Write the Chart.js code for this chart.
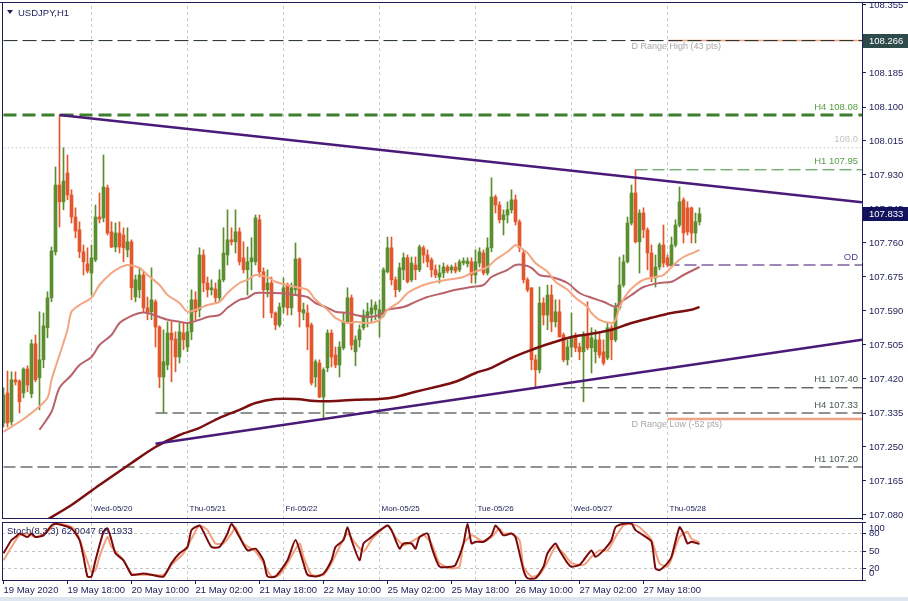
<!DOCTYPE html>
<html>
<head>
<meta charset="utf-8">
<title>USDJPY,H1</title>
<script src="https://cdn.jsdelivr.net/npm/chart.js@4.4.1/dist/chart.umd.min.js"></script>
<style>
    html, body { margin: 0; padding: 0; background: #fff; }
    #wrap { position: relative; width: 908px; height: 601px; overflow: hidden; background: #fff; }
    #price-chart { position: absolute; left: 0; top: 0; }
    #stoch-chart { position: absolute; left: 0; top: 521px; }
    #status-strip { position: absolute; left: 0; top: 597px; width: 908px; height: 4px; background: #dde5ef; }
</style>
</head>
<body>
<div id="wrap">
    <canvas id="price-chart" width="908" height="521"></canvas>
    <canvas id="stoch-chart" width="908" height="76"></canvas>
    <div id="status-strip"></div>
</div>
<script>
const symbolTitle = "USDJPY,H1";
const stochTitle = "Stoch(8,3,3) 62.0047 65.1933";

const candleOpen = [107.310,107.385,107.313,107.418,107.415,107.385,107.445,107.383,107.508,107.423,
    107.468,107.548,107.623,107.738,107.905,107.863,107.935,107.880,107.825,107.793,
    107.738,107.708,107.685,107.718,107.825,107.823,107.898,107.788,107.750,107.785,
    107.780,107.743,107.763,107.625,107.643,107.680,107.598,107.588,107.613,107.550,
    107.425,107.455,107.535,107.520,107.475,107.535,107.500,107.538,107.618,107.593,
    107.730,107.660,107.643,107.645,107.623,107.668,107.730,107.768,107.763,107.788,
    107.723,107.693,107.713,107.713,107.818,107.688,107.643,107.660,107.585,107.555,
    107.600,107.655,107.598,107.643,107.720,107.585,107.585,107.555,107.425,107.460,
    107.375,107.448,107.535,107.480,107.455,107.498,107.563,107.623,107.488,107.518,
    107.548,107.573,107.583,107.593,107.573,107.580,107.688,107.748,107.668,107.643,
    107.693,107.723,107.668,107.705,107.693,107.748,107.730,107.718,107.693,107.675,
    107.685,107.700,107.693,107.700,107.693,107.710,107.708,107.713,107.680,107.710,
    107.735,107.685,107.748,107.875,107.855,107.818,107.830,107.843,107.868,107.813,
    107.735,107.668,107.648,107.468,107.443,107.610,107.580,107.630,107.563,107.588,
    107.530,107.468,107.500,107.525,107.500,107.488,107.530,107.498,107.488,107.518,
    107.488,107.473,107.548,107.518,107.598,107.655,107.713,107.810,107.885,107.763,
    107.835,107.793,107.735,107.673,107.700,107.755,107.723,107.705,107.755,107.805,
    107.868,107.848,107.848,107.785,107.813];
const candleHigh = [107.398,107.440,107.438,107.438,107.418,107.448,107.453,107.518,107.530,107.588,
    107.585,107.638,107.750,107.950,108.080,107.998,107.980,107.893,107.848,107.813,
    107.755,107.748,107.755,107.855,107.885,107.980,107.905,107.813,107.810,107.813,
    107.798,107.798,107.768,107.680,107.698,107.688,107.625,107.698,107.618,107.553,
    107.543,107.563,107.563,107.538,107.560,107.560,107.560,107.643,107.638,107.748,
    107.743,107.675,107.668,107.660,107.693,107.798,107.843,107.798,107.843,107.798,
    107.763,107.750,107.773,107.830,107.830,107.698,107.693,107.675,107.588,107.610,
    107.673,107.660,107.660,107.760,107.723,107.610,107.605,107.560,107.468,107.468,
    107.448,107.543,107.543,107.500,107.513,107.585,107.648,107.630,107.528,107.555,
    107.593,107.610,107.618,107.613,107.618,107.698,107.775,107.775,107.675,107.710,
    107.735,107.730,107.725,107.725,107.755,107.753,107.743,107.723,107.705,107.705,
    107.710,107.705,107.705,107.710,107.718,107.723,107.723,107.723,107.743,107.748,
    107.743,107.773,107.923,107.880,107.863,107.843,107.863,107.893,107.880,107.818,
    107.743,107.673,107.648,107.480,107.650,107.623,107.655,107.655,107.618,107.618,
    107.535,107.518,107.585,107.535,107.510,107.538,107.613,107.548,107.543,107.535,
    107.518,107.560,107.555,107.610,107.725,107.730,107.825,107.905,107.943,107.843,
    107.848,107.798,107.755,107.730,107.760,107.805,107.730,107.775,107.818,107.900,
    107.873,107.863,107.850,107.835,107.848];
const candleLow = [107.300,107.300,107.305,107.405,107.335,107.373,107.388,107.373,107.413,107.343,
    107.448,107.523,107.613,107.730,107.800,107.843,107.868,107.810,107.773,107.723,
    107.680,107.685,107.630,107.713,107.810,107.813,107.780,107.748,107.738,107.735,
    107.713,107.725,107.618,107.613,107.623,107.588,107.568,107.568,107.500,107.398,
    107.335,107.443,107.413,107.438,107.460,107.493,107.488,107.518,107.568,107.575,
    107.638,107.625,107.630,107.610,107.613,107.663,107.705,107.755,107.735,107.705,
    107.685,107.630,107.643,107.705,107.675,107.573,107.625,107.573,107.543,107.550,
    107.585,107.580,107.580,107.630,107.550,107.568,107.493,107.405,107.400,107.373,
    107.318,107.438,107.450,107.448,107.425,107.493,107.560,107.493,107.453,107.500,
    107.543,107.550,107.560,107.568,107.525,107.575,107.685,107.655,107.625,107.638,
    107.668,107.660,107.663,107.668,107.688,107.710,107.700,107.675,107.673,107.660,
    107.673,107.685,107.685,107.685,107.688,107.705,107.700,107.660,107.660,107.700,
    107.680,107.680,107.738,107.835,107.810,107.780,107.810,107.835,107.805,107.738,
    107.660,107.638,107.443,107.398,107.435,107.555,107.543,107.538,107.550,107.525,
    107.463,107.455,107.475,107.488,107.468,107.363,107.493,107.435,107.460,107.473,
    107.455,107.468,107.468,107.513,107.593,107.650,107.710,107.805,107.760,107.685,
    107.773,107.693,107.663,107.650,107.693,107.700,107.700,107.700,107.750,107.800,
    107.760,107.780,107.760,107.760,107.805];
const candleClose = [107.380,107.310,107.418,107.413,107.363,107.445,107.405,107.508,107.418,107.468,
    107.553,107.623,107.740,107.905,107.863,107.915,107.880,107.825,107.790,107.738,
    107.713,107.690,107.723,107.825,107.820,107.900,107.785,107.750,107.785,107.750,
    107.748,107.763,107.648,107.668,107.680,107.598,107.588,107.618,107.550,107.425,
    107.463,107.535,107.518,107.475,107.538,107.518,107.538,107.618,107.588,107.730,
    107.660,107.643,107.648,107.623,107.668,107.735,107.768,107.763,107.788,107.713,
    107.693,107.713,107.723,107.823,107.688,107.643,107.660,107.585,107.555,107.600,
    107.648,107.598,107.648,107.720,107.588,107.593,107.550,107.410,107.463,107.375,
    107.443,107.535,107.475,107.455,107.500,107.563,107.623,107.505,107.518,107.543,
    107.580,107.588,107.598,107.605,107.593,107.693,107.748,107.668,107.643,107.698,
    107.723,107.663,107.710,107.693,107.750,107.730,107.713,107.693,107.680,107.685,
    107.700,107.690,107.700,107.690,107.713,107.715,107.715,107.680,107.713,107.738,
    107.685,107.748,107.875,107.855,107.818,107.830,107.843,107.868,107.813,107.748,
    107.668,107.643,107.468,107.443,107.610,107.580,107.630,107.563,107.588,107.525,
    107.468,107.500,107.523,107.498,107.488,107.530,107.498,107.523,107.518,107.480,
    107.460,107.548,107.518,107.598,107.655,107.713,107.810,107.885,107.763,107.835,
    107.793,107.735,107.673,107.700,107.755,107.710,107.705,107.755,107.805,107.863,
    107.785,107.788,107.785,107.813,107.833];

const fastMaBars = [0,4,8,11,12,14,16,17,19,22,24,27,29,31,34,36,39,41,44,46,48,51,54,56,59,61,63,66,68,71,
    73,76,78,81,83,86,88,91,94,96,99,101,105,108,111,115,117,121,123,126,128,129,131,133,136,138,141,143,146,147,
    149,152,153,154,156,158,160,163,165,168,170,173,174];
const fastMa = [107.288,107.313,107.343,107.373,107.418,107.480,107.543,107.588,107.605,107.623,
    107.655,107.685,107.698,107.705,107.698,107.680,107.655,107.630,107.610,107.588,
    107.593,107.605,107.613,107.635,107.660,107.668,107.680,107.675,107.663,107.655,
    107.650,107.643,107.618,107.593,107.573,107.560,107.563,107.560,107.568,107.593,
    107.613,107.635,107.655,107.663,107.668,107.675,107.685,107.700,107.718,107.738,
    107.755,107.750,107.735,107.710,107.688,107.663,107.643,107.623,107.600,107.585,
    107.568,107.560,107.568,107.600,107.635,107.655,107.668,107.675,107.680,107.710,
    107.725,107.738,107.743];

const midMaBars = [9,12,14,17,19,22,24,27,29,31,34,36,39,41,44,46,49,51,54,56,59,61,63,66,68,71,73,76,78,81,
    83,86,88,91,94,96,100,103,106,110,113,117,120,122,126,128,130,132,134,137,141,144,147,150,153,154,157,160,164,167,
    170,174];
const midMa = [107.293,107.338,107.398,107.430,107.455,107.475,107.505,107.530,107.560,107.573,
    107.585,107.585,107.575,107.568,107.563,107.560,107.568,107.575,107.580,107.598,
    107.618,107.623,107.635,107.635,107.635,107.633,107.630,107.625,107.610,107.598,
    107.588,107.585,107.580,107.575,107.580,107.593,107.600,107.613,107.625,107.635,
    107.643,107.650,107.655,107.675,107.693,107.705,107.705,107.698,107.680,107.675,
    107.660,107.635,107.623,107.613,107.600,107.610,107.630,107.650,107.660,107.663,
    107.680,107.700];

const slowMaBars = [10,17,24,32,38,44,49,54,59,63,68,73,78,83,88,94,98,103,108,113,118,122,127,132,137,142,147,152,157,162,
    167,172,174];
const slowMa = [107.063,107.105,107.155,107.210,107.250,107.280,107.298,107.323,107.343,107.360,
    107.370,107.370,107.365,107.365,107.368,107.370,107.375,107.388,107.400,107.413,
    107.435,107.448,107.473,107.493,107.510,107.525,107.533,107.543,107.560,107.573,
    107.585,107.593,107.600];

const upperTrendBars = [14, 214.6];
const upperTrendPrices = [108.080, 107.862];
const lowerTrendBars = [38, 214.6];
const lowerTrendPrices = [107.258, 107.518];

const levelLabels = ["D Range High (43 pts)", "H4 108.08", "108.0", "H1 107.95", "OD",
    "H1 107.40", "H4 107.33", "D Range Low (-52 pts)", "H1 107.20", ""];
const levelPrices = [108.266, 108.080, 107.998, 107.943, 107.705, 107.398, 107.335, 107.320, 107.200, 108.266];
const levelStartBars = [0, 0, 0, 158, 166, 140, 38, 166, 0, 166];

const lastPrice = 107.833;
const rangeHighPrice = 108.266;

const priceTicks = [107.080, 107.165, 107.250, 107.335, 107.420, 107.505, 107.590, 107.675,
    107.760, 107.845, 107.930, 108.015, 108.100, 108.185, 108.270, 108.355];

const dayBars = [22, 46, 70, 94, 118, 142, 166];
const dayLabels = ["Wed-05/20", "Thu-05/21", "Fri-05/22", "Mon-05/25", "Tue-05/26", "Wed-05/27", "Thu-05/28"];

const timeLabelBars = [0, 16, 32, 48, 64, 80, 96, 112, 128, 144, 160];
const timeLabels = ["19 May 2020", "19 May 18:00", "20 May 10:00", "21 May 02:00", "21 May 18:00",
    "22 May 10:00", "25 May 02:00", "25 May 18:00", "26 May 10:00", "27 May 02:00", "27 May 18:00"];

const stochKBars = [0,2,3,4,6,7,8,10,12,13,15,17,19,20,21,22,23,25,26,27,28,30,32,33,35,37,40,42,44,46,
    47,49,50,52,54,56,57,59,61,63,65,66,68,71,73,75,76,78,80,82,83,85,86,87,89,90,92,93,96,97,
    99,100,102,103,104,106,107,109,112,113,115,116,117,118,120,122,123,124,125,127,128,130,131,133,135,136,138,139,141,142,
    144,145,147,148,150,152,153,155,157,158,160,162,163,164,166,167,169,170,171,172,174];
const stochK = [46,69,74,80,74,80,74,77,94,97,94,89,69,40,6,6,34,83,89,69,46,34,9,9,11,9,6,29,46,57,
    86,94,83,57,57,80,97,74,51,54,34,6,6,34,69,29,9,6,11,34,57,69,91,69,34,63,74,80,94,86,
    54,63,63,54,74,80,57,23,23,26,63,97,63,66,66,77,94,86,77,80,74,17,3,3,23,46,63,51,29,23,
    26,34,51,40,51,69,91,97,97,86,77,66,20,17,29,40,91,80,63,66,62];
const stochDBars = [0,2,4,6,8,11,13,16,18,20,22,23,24,26,27,30,32,35,37,40,42,45,47,49,51,53,55,57,58,60,
    63,65,67,69,71,74,75,77,80,82,84,86,88,90,92,94,96,98,100,102,105,107,109,112,114,115,117,118,120,122,
    124,125,127,129,130,132,134,136,138,140,142,145,147,149,151,153,155,157,159,162,164,166,167,169,171,172,174];
const stochD = [34,57,77,80,74,83,97,94,86,51,14,17,40,74,57,34,11,9,9,9,26,46,71,94,86,63,63,80,91,63,
    49,29,6,9,29,63,40,9,9,29,57,80,63,49,69,83,94,74,60,66,77,63,29,20,23,63,77,74,66,74,
    89,80,80,69,23,6,9,31,57,46,29,26,40,51,51,74,94,97,91,69,29,23,37,74,83,71,65];
const stochTicks = [0, 20, 50, 80, 100];

const navy = "#1d1d57";
const bullColor = "#5b8e2f";
const bearColor = "#e4572c";
const levelDark = "#1e2926";
const xMin = -0.375;
const xMax = 214.625;
const priceMin = 107.07;
const priceMax = 108.36;

const levelLooks = [
    { line: { borderColor: levelDark, borderWidth: 1, borderDash: [14, 5] }, text: "#a8a8a8", under: true },
    { line: { borderColor: "#3c7f2c", borderWidth: 3, borderDash: [13, 6] }, text: "#55a045" },
    { line: { borderColor: "#d0d0d0", borderWidth: 1, borderDash: [2, 2] }, text: "#c4c4c4" },
    { line: { borderColor: "#3f8a3a", borderWidth: 1, borderDash: [12, 5] }, text: "#55a045" },
    { line: { borderColor: "#3c0f72", borderWidth: 1, borderDash: [12, 5] }, text: "#5b3a9a" },
    { line: { borderColor: levelDark, borderWidth: 1, borderDash: [12, 5] }, text: "#4d5656" },
    { line: { borderColor: levelDark, borderWidth: 1, borderDash: [12, 5] }, text: "#4d5656" },
    { line: { borderColor: "#f2a385", borderWidth: 2.5 }, text: "#a8a8a8", under: true },
    { line: { borderColor: levelDark, borderWidth: 1, borderDash: [12, 5] }, text: "#4d5656" },
    { line: { borderColor: "#f2a385", borderWidth: 1.5 }, text: "#a8a8a8" }
];

Chart.defaults.font.family = "'Liberation Sans', Arial, sans-serif";
Chart.defaults.font.size = 9.5;
Chart.defaults.color = navy;

function lineSet(xs, ys, style) {
    return Object.assign({
        type: "line",
        data: xs.map((x, i) => ({ x, y: ys[i] })),
        pointRadius: 0,
        pointHoverRadius: 0,
        fill: false
    }, style);
}

function separatorSets(low, high) {
    return dayBars.map(bar => lineSet([bar, bar], [low, high], {
        borderColor: "#c8c8c8",
        borderWidth: 1,
        borderDash: [3, 3],
        order: 9
    }));
}

const barIndex = candleOpen.map((_, i) => i);
const candleColors = barIndex.map(i => candleClose[i] >= candleOpen[i] ? bullColor : bearColor);

const mainOverlay = {
    id: "mainOverlay",
    afterDatasetsDraw(chart) {
        const { ctx, chartArea: area, scales } = chart;
        const x = scales.x;
        const y = scales.y;

        ctx.save();
        ctx.textBaseline = "middle";

        levelLabels.forEach((label, i) => {
            if (!label) {
                return;
            }

            const py = y.getPixelForValue(levelPrices[i]);
            const look = levelLooks[i];
            ctx.fillStyle = look.text;

            if (look.under) {
                ctx.font = "9px 'Liberation Sans'";
                ctx.textAlign = "left";
                ctx.fillText(label, x.getPixelForValue(157), py + 6);
            } else {
                ctx.font = "9.5px 'Liberation Sans'";
                ctx.textAlign = "right";
                ctx.fillText(label, area.right - 4, py - 8);
            }
        });

        ctx.font = "8px 'Liberation Sans'";
        ctx.textAlign = "left";
        ctx.fillStyle = navy;
        dayBars.forEach((bar, i) => {
            ctx.fillText(dayLabels[i], x.getPixelForValue(bar) + 2, area.bottom - 10);
        });

        ctx.restore();
    },
    afterDraw(chart) {
        const { ctx, chartArea: area, scales } = chart;
        const y = scales.y;

        ctx.save();
        ctx.strokeStyle = navy;
        ctx.lineWidth = 1;
        ctx.beginPath();
        ctx.moveTo(0, area.top - 0.5);
        ctx.lineTo(chart.width, area.top - 0.5);
        ctx.moveTo(area.left + 0.5, area.top);
        ctx.lineTo(area.left + 0.5, area.bottom);
        ctx.moveTo(area.left, area.bottom - 0.5);
        ctx.lineTo(area.right, area.bottom - 0.5);
        ctx.stroke();

        ctx.fillStyle = navy;
        ctx.font = "9.5px 'Liberation Sans'";
        ctx.textBaseline = "middle";
        ctx.textAlign = "left";
        priceTicks.forEach(value => {
            ctx.fillText(value.toFixed(3), area.right + 7, y.getPixelForValue(value));
        });

        ctx.beginPath();
        ctx.moveTo(7, 10);
        ctx.lineTo(13, 10);
        ctx.lineTo(10, 14);
        ctx.closePath();
        ctx.fill();
        ctx.fillText(symbolTitle, 18, 13);

        [[rangeHighPrice, "#2f4a4a"], [lastPrice, "#12125e"]].forEach(([price, color]) => {
            const py = Math.round(y.getPixelForValue(price));
            ctx.fillStyle = color;
            ctx.fillRect(area.right + 1, py - 7, chart.width - area.right - 1, 14);
            ctx.fillStyle = "#ffffff";
            ctx.fillText(price.toFixed(3), area.right + 7, py + 0.5);
        });

        ctx.restore();
    }
};

const stochOverlay = {
    id: "stochOverlay",
    afterDraw(chart) {
        const { ctx, chartArea: area, scales } = chart;
        const y = scales.y;

        ctx.save();
        ctx.strokeStyle = navy;
        ctx.lineWidth = 1;
        ctx.beginPath();
        ctx.moveTo(area.left, area.top + 0.5);
        ctx.lineTo(area.right, area.top + 0.5);
        ctx.moveTo(area.left + 0.5, area.top);
        ctx.lineTo(area.left + 0.5, area.bottom);
        ctx.stroke();

        ctx.fillStyle = navy;
        ctx.font = "9.5px 'Liberation Sans'";
        ctx.textBaseline = "middle";
        ctx.textAlign = "left";
        ctx.fillText(stochTitle, area.left + 5, area.top + 9);

        stochTicks.forEach(value => {
            const py = Math.min(Math.max(y.getPixelForValue(value), area.top + 6), area.bottom - 7);
            ctx.fillText(String(value), area.right + 7, py);
        });

        ctx.restore();
    }
};

new Chart(document.getElementById("price-chart"), {
    type: "line",
    data: {
        datasets: [
            lineSet(upperTrendBars, upperTrendPrices, { borderColor: "#4a1a78", borderWidth: 2.5, order: 0 }),
            lineSet(lowerTrendBars, lowerTrendPrices, { borderColor: "#4a1a78", borderWidth: 2.5, order: 0 }),
            lineSet(fastMaBars, fastMa, { borderColor: "#f4a582", borderWidth: 2, tension: 0.3, order: 1 }),
            lineSet(midMaBars, midMa, { borderColor: "#b9626a", borderWidth: 2, tension: 0.3, order: 1 }),
            lineSet(slowMaBars, slowMa, { borderColor: "#7b0f0f", borderWidth: 2.5, tension: 0.3, order: 1 }),
            {
                type: "bar",
                data: barIndex.map(i => ({ x: i, y: [candleOpen[i], candleClose[i]] })),
                backgroundColor: candleColors,
                barThickness: 3,
                minBarLength: 1,
                grouped: false,
                borderWidth: 0,
                order: 2
            },
            {
                type: "bar",
                data: barIndex.map(i => ({ x: i, y: [candleLow[i], candleHigh[i]] })),
                backgroundColor: candleColors,
                barThickness: 1,
                grouped: false,
                borderWidth: 0,
                order: 3
            },
            ...levelLabels.map((_, i) => lineSet(
                [levelStartBars[i], xMax],
                [levelPrices[i], levelPrices[i]],
                Object.assign({ order: 4 }, levelLooks[i].line)
            )),
            ...separatorSets(priceMin, priceMax)
        ]
    },
    options: {
        responsive: false,
        animation: false,
        devicePixelRatio: 1,
        events: [],
        layout: {
            padding: { left: 2, top: 3, right: 0, bottom: 2 }
        },
        plugins: {
            legend: { display: false },
            tooltip: { enabled: false }
        },
        scales: {
            x: {
                type: "linear",
                display: false,
                offset: false,
                min: xMin,
                max: xMax
            },
            y: {
                type: "linear",
                position: "right",
                min: priceMin,
                max: priceMax,
                afterFit(scale) {
                    scale.width = 46;
                },
                afterBuildTicks(scale) {
                    scale.ticks = priceTicks.map(value => ({ value }));
                },
                ticks: { display: false },
                grid: {
                    drawOnChartArea: false,
                    drawTicks: true,
                    tickLength: 4,
                    color: navy
                },
                border: { color: navy, width: 1 }
            }
        }
    },
    plugins: [mainOverlay]
});

new Chart(document.getElementById("stoch-chart"), {
    type: "line",
    data: {
        datasets: [
            lineSet(stochDBars, stochD, { borderColor: "#f2a07e", borderWidth: 2, tension: 0.2, order: 2 }),
            lineSet(stochKBars, stochK, { borderColor: "#7b0b0b", borderWidth: 2, tension: 0.2, order: 1 }),
            ...separatorSets(0, 100)
        ]
    },
    options: {
        responsive: false,
        animation: false,
        devicePixelRatio: 1,
        events: [],
        layout: {
            padding: { left: 2, top: 1, right: 0, bottom: 0 }
        },
        plugins: {
            legend: { display: false },
            tooltip: { enabled: false }
        },
        scales: {
            x: {
                type: "linear",
                position: "bottom",
                offset: false,
                min: xMin,
                max: xMax,
                afterFit(scale) {
                    scale.height = 17;
                },
                afterBuildTicks(scale) {
                    scale.ticks = timeLabelBars.map(value => ({ value }));
                },
                ticks: {
                    autoSkip: false,
                    maxRotation: 0,
                    align: "start",
                    padding: 1,
                    color: navy,
                    font: { size: 9.5 },
                    callback(value, index) {
                        return timeLabels[index];
                    }
                },
                grid: {
                    drawOnChartArea: false,
                    drawTicks: true,
                    tickLength: 4,
                    color: navy
                },
                border: { color: navy, width: 1 }
            },
            y: {
                type: "linear",
                position: "right",
                min: 0,
                max: 100,
                afterFit(scale) {
                    scale.width = 46;
                },
                afterBuildTicks(scale) {
                    scale.ticks = stochTicks.map(value => ({ value }));
                },
                ticks: { display: false },
                grid: {
                    drawTicks: true,
                    tickLength: 4,
                    tickColor: navy,
                    color(context) {
                        const value = context.tick ? context.tick.value : 0;
                        return value > 0 && value < 100 ? "#c4c4c4" : "rgba(0,0,0,0)";
                    }
                },
                border: { color: navy, width: 1, dash: [3, 3] }
            }
        }
    },
    plugins: [stochOverlay]
});
</script>
</body>
</html>
